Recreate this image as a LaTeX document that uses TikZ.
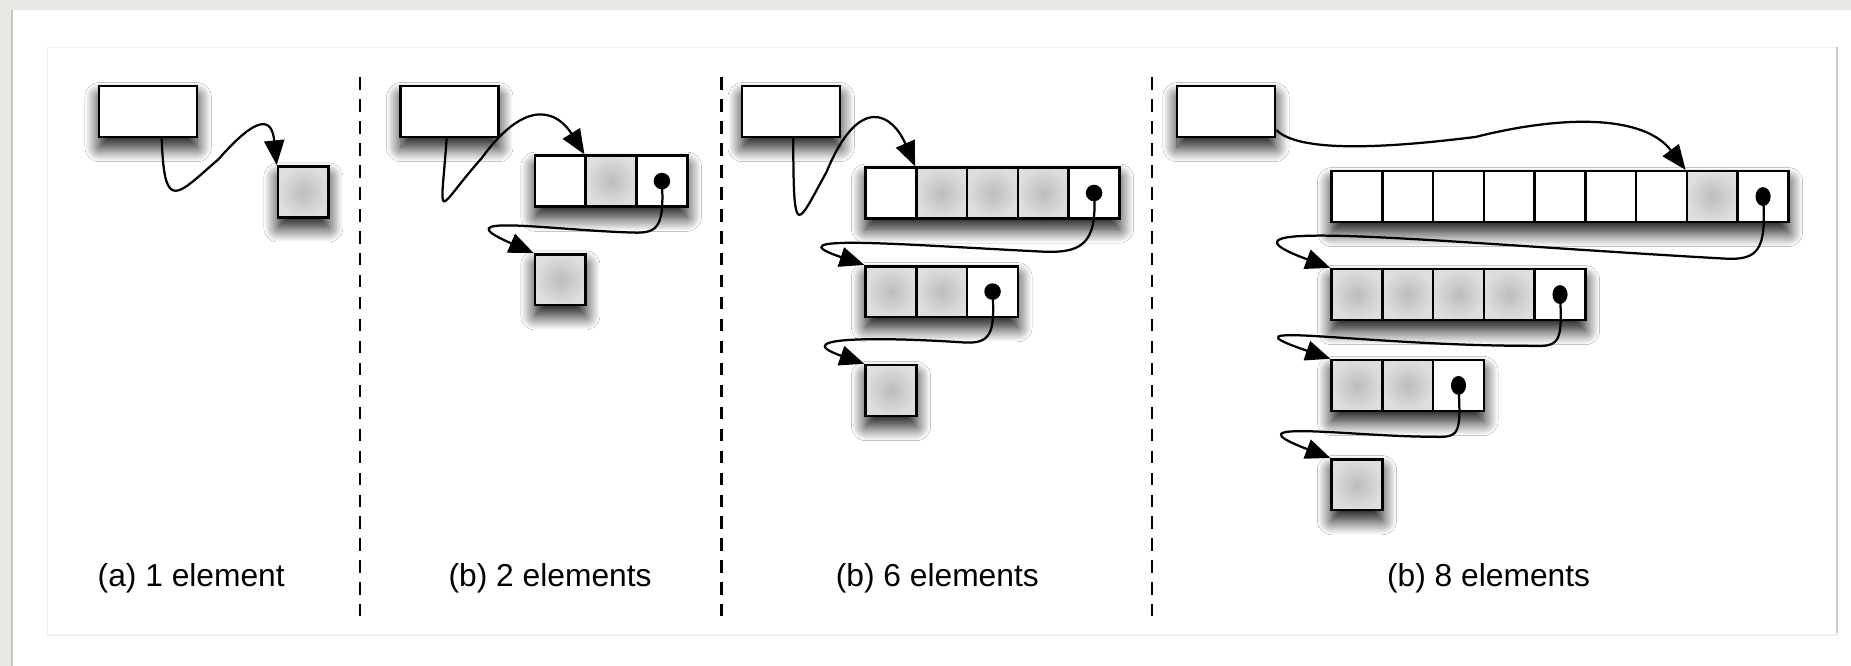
\documentclass[tikz,border=0pt]{standalone}
\usepackage{fontspec}
\setmainfont{Liberation Sans}
\usetikzlibrary{arrows.meta,shadows.blur}

\definecolor{pagegray}{HTML}{E8E8E5}
\definecolor{framegray}{HTML}{C6C6C2}

\tikzset{
  shadowed/.style={blur shadow={shadow xshift=0pt, shadow yshift=-4.5pt,
      shadow blur radius=6pt, shadow blur steps=16, shadow opacity=95}},
  ptr/.style={draw, line width=1.1pt, fill=white, minimum width=41.5pt,
      minimum height=21.5pt, inner sep=0pt, shadowed},
  cell/.style={draw, line width=1.1pt, minimum size=21.5pt, inner sep=0pt},
  slot/.style={fill=white},
  link/.style={fill=white},
  item/.style={inner color=gray!52, outer color=gray!26},
  divider/.style={line width=1.1pt, dash pattern=on 5.3pt off 4pt},
  caption/.style={font=\fontsize{13.45}{16}\selectfont, anchor=base},
  >={Triangle[length=10.5pt, width=8.5pt, fill=black]},
}

% one row of cells: name, left x, middle y, number of cells, kinds
\newcommand{\cellrow}[5]{%
  \fill[white, shadowed] (#2,#3-21.5) rectangle ++(#4*43,43);
  \foreach \k [count=\i] in {#5}
    \node[cell, \k] (#1-\i) at ({#2+(\i-0.5)*43}, #3) {};
}

\begin{document}
\begin{tikzpicture}[x=0.5pt, y=0.5pt, line width=0.95pt]
  \useasboundingbox (0,0) rectangle (1568,564);
  % page and panel
  \fill[pagegray] (0,0) rectangle (1568,564);
  \fill[white] (10,0) rectangle (1568,555.5);
  \draw[framegray, line width=0.8pt] (10.5,0) -- (10.5,555.5);
  \draw[gray!12, line width=0.6pt] (40,26) rectangle (1556,524);
  \draw[gray!40, line width=0.7pt] (1556,524) -- (1556,28);

  % dividers
  \foreach \x in {305, 611, 976}
    \draw[divider] (\x,498.5) -- (\x,42);

  % (a)
  \node[ptr] (ptrA) at (125.5,469.5) {};
  \cellrow{a1}{235.5}{401.5}{1}{item}
  \draw[->] ([xshift=5.75pt]ptrA.south) .. controls (139,382) and (150,399) .. (185,429)
    .. controls (220,469) and (230.5,463) .. (a1-1.north west);
  \node[caption] (capA) at (162,67) {(a) 1 element};

  % (b)
  \node[ptr] (ptrB) at (381,469.5) {};
  \cellrow{b1}{453.2}{410.6}{3}{slot,item,link}
  \cellrow{b2}{453.2}{327}{1}{item}
  \fill (b1-3) circle (3.5pt);
  \draw[->] ([xshift=-1.3pt]ptrB.south) .. controls (373,372) and (368,385) .. (408,430)
    .. controls (448,485) and (474,467) .. (b1-2.north west);
  \draw[->] (b1-3.center) .. controls (562.7,372.6) and (558,366) .. (536,367)
    .. controls (466,369) and (373,384) .. (b2-1.north west);
  \node[caption] (capB) at (466,67) {(b) 2 elements};

  % (c)
  \node[ptr] (ptrC) at (670.2,469.5) {};
  \cellrow{c1}{733.3}{400.5}{5}{slot,item,item,item,link}
  \cellrow{c2}{733.3}{317}{3}{item,item,link}
  \cellrow{c3}{733.3}{233.2}{1}{item}
  \fill (c1-5) circle (3.5pt);
  \fill (c2-3) circle (3.5pt);
  \draw[->] ([xshift=0.9pt]ptrC.south) .. controls (672,357.7) and (675,373) .. (700,418)
    .. controls (728,486) and (756.3,467) .. (c1-2.north west);
  \draw[->] (c1-5.center) .. controls (929.8,355.5) and (915,349) .. (880,351)
    .. controls (760,357) and (653.3,366) .. (c2-1.north west);
  \draw[->] (c2-3.center) .. controls (842.8,282) and (840,272) .. (815,274)
    .. controls (755,278) and (663.3,279.8) .. (c3-1.north west);
  \node[caption] (capC) at (794,67) {(b) 6 elements};

  % (d)
  \node[ptr] (ptrD) at (1038.5,469.5) {};
  \cellrow{d1}{1128}{397.5}{9}{slot,slot,slot,slot,slot,slot,slot,item,link}
  \cellrow{d2}{1128}{314.5}{5}{item,item,item,item,link}
  \cellrow{d3}{1128}{237.5}{3}{item,item,link}
  \cellrow{d4}{1128}{153.5}{1}{item}
  \foreach \n in {d1-9, d2-5, d3-3}
    \fill (\n) ellipse (3.2pt and 4pt);
  \draw[->] ([yshift=3.5pt]ptrD.south east) .. controls (1100,435) and (1170,438) .. (1250,448)
    .. controls (1330,468) and (1394,465) .. (d1-8.north west);
  \draw[->] (d1-9.center) .. controls (1496.5,352.5) and (1490,343) .. (1460,345)
    .. controls (1210,359) and (1008,381) .. (d2-1.north west);
  \draw[->] (d2-5.center) .. controls (1323.5,276.5) and (1322,270) .. (1300,271)
    .. controls (1150,271) and (1028,294) .. (d3-1.north west);
  \draw[->] (d3-3.center) .. controls (1237.5,197.5) and (1237,193) .. (1215,194)
    .. controls (1145,194) and (1038,210) .. (d4-1.north west);
  \node[caption] (capD) at (1261,67) {(b) 8 elements};
\end{tikzpicture}
\end{document}
